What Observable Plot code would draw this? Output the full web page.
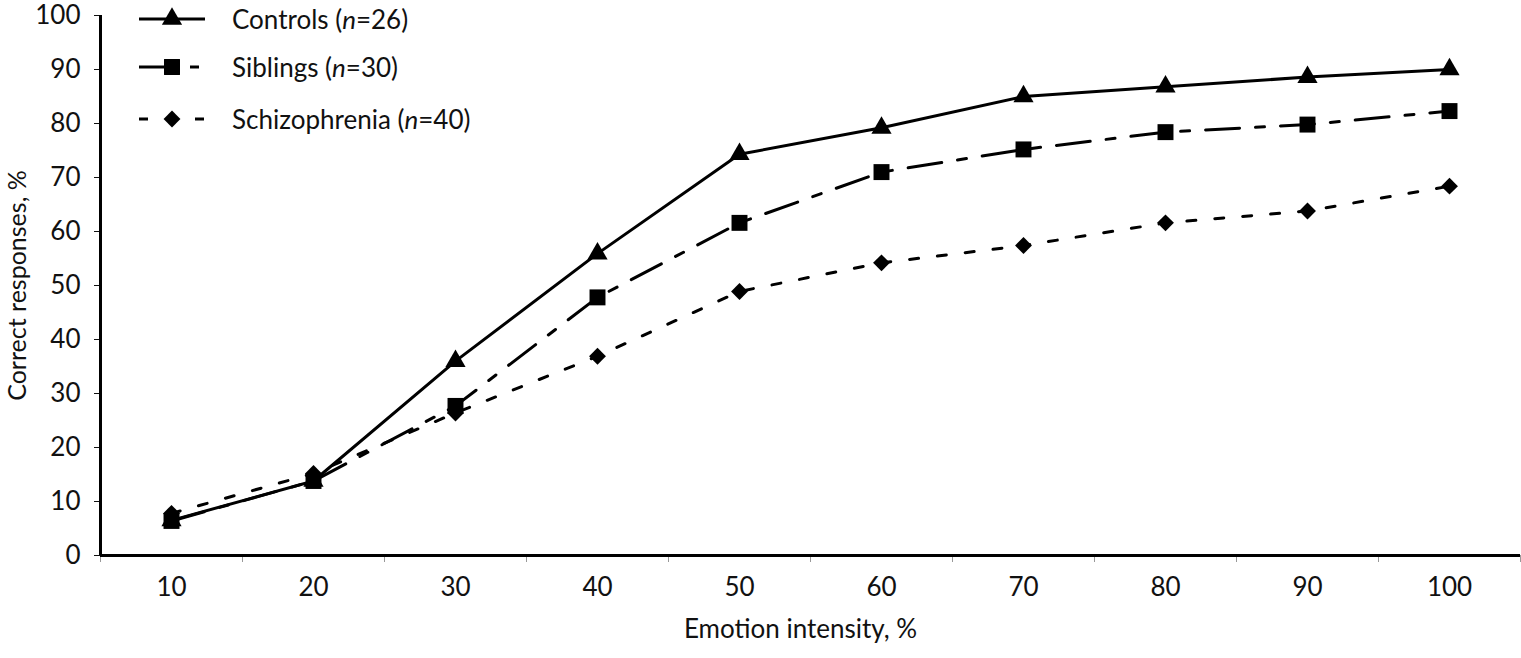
<!DOCTYPE html>
<html>
<head>
<meta charset="utf-8">
<script src="https://cdn.jsdelivr.net/npm/d3@7"></script>
<script src="https://cdn.jsdelivr.net/npm/@observablehq/plot@0.6"></script>
<style>
  body { margin: 0; background: #fff; }
  #grafico { position: relative; width: 1521px; height: 658px; font-family: Lato, "Open Sans", sans-serif; }
  .leyenda { position: absolute; left: 0; top: 0; }
  .fila { position: absolute; left: 138px; height: 30px; display: flex; align-items: center; font-size: 26px; color: #111; white-space: nowrap; }
  .fila svg { display: block; margin-right: 26px; }
</style>
</head>
<body>
<div id="grafico"></div>
<script>
  // Emotion intensity (%) on x, correct responses (%) on y
  const intensidad = [10, 20, 30, 40, 50, 60, 70, 80, 90, 100];
  const controles = [6.5, 13.8, 36.0, 55.9, 74.3, 79.2, 85.0, 86.8, 88.6, 90.0];
  const hermanos = [6.4, 13.8, 27.7, 47.8, 61.6, 71.0, 75.2, 78.4, 79.8, 82.3];
  const esquizofrenia = [7.8, 15.2, 26.4, 36.9, 48.9, 54.2, 57.4, 61.6, 63.8, 68.4];
  const limites = [5, 15, 25, 35, 45, 55, 65, 75, 85, 95, 105];
  const ticksY = [0, 10, 20, 30, 40, 50, 60, 70, 80, 90, 100];

  const series = [
    { nombre: "Controls", n: 26, valores: controles, simbolo: "triangle", r: 7.5, guiones: null },
    { nombre: "Siblings", n: 30, valores: hermanos, simbolo: "square", r: 9, guiones: "34 16 9 16" },
    { nombre: "Schizophrenia", n: 40, valores: esquizofrenia, simbolo: "diamond2", r: 7.6, guiones: "9 19" },
  ];

  const filas = (s) => intensidad.map((x, i) => ({ x, y: s.valores[i] }));

  const marcas = [];
  series.forEach((s) => {
    marcas.push(Plot.line(filas(s), {
      x: "x", y: "y", stroke: "#000", strokeWidth: 3,
      strokeDasharray: s.guiones || undefined,
    }));
  });
  series.forEach((s) => {
    marcas.push(Plot.dot(filas(s), {
      x: "x", y: "y", symbol: () => s.simbolo, r: s.r, fill: "#000", stroke: "none",
    }));
  });

  const fuente = 26;
  const grafico = Plot.plot({
    width: 1521,
    height: 658,
    marginLeft: 100,
    marginRight: 1,
    marginTop: 15,
    marginBottom: 103,
    style: { background: "#fff", fontFamily: "Lato, 'Open Sans', sans-serif", fontSize: fuente + "px", color: "#111", overflow: "visible" },
    x: { type: "linear", domain: [5, 105] },
    y: { domain: [0, 100] },
    symbol: { type: "identity" },
    marks: [
      Plot.axisY({ ticks: ticksY, tickSize: 6, tickPadding: 14, label: null, fontSize: fuente }),
      Plot.axisX({ ticks: intensidad, tickSize: 0, tickPadding: 22, label: null, fontSize: fuente }),
      Plot.axisX({ ticks: limites, tickSize: 7, tickFormat: () => "", stroke: "#999", label: null }),
      Plot.ruleY([0], { stroke: "#000", strokeWidth: 3 }),
      Plot.ruleX([5], { stroke: "#000", strokeWidth: 3 }),
      Plot.text(["Correct responses, %"], {
        frameAnchor: "left", textAnchor: "middle", rotate: -90, dx: -83, fontSize: 25, fill: "#111",
      }),
      Plot.text(["Emotion intensity, %"], {
        frameAnchor: "bottom", dy: 82, dx: -10, fontSize: fuente, fill: "#111",
      }),
      ...marcas,
    ],
  });

  const host = document.getElementById("grafico");
  host.appendChild(grafico);

  // leyenda dentro del área del gráfico, arriba a la izquierda
  const leyenda = document.createElement("div");
  leyenda.className = "leyenda";
  const centros = [19, 67, 119];
  series.forEach((s, i) => {
    const fila = document.createElement("div");
    fila.className = "fila";
    fila.style.top = (centros[i] - 15) + "px";
    const svg = d3.create("svg").attr("width", 68).attr("height", 30);
    svg.append("line")
      .attr("x1", 1).attr("x2", 67).attr("y1", 15).attr("y2", 15)
      .attr("stroke", "#000").attr("stroke-width", 3)
      .attr("stroke-dasharray", s.guiones ? (s.guiones === "9 19" ? "9 19" : "25 8 0 18 9 20") : null);
    const tipo = { triangle: d3.symbolTriangle, square: d3.symbolSquare, diamond2: d3.symbolDiamond2 }[s.simbolo];
    svg.append("path")
      .attr("transform", "translate(34,15)")
      .attr("d", d3.symbol(tipo, Math.PI * s.r * s.r)())
      .attr("fill", "#000");
    fila.appendChild(svg.node());
    const txt = document.createElement("span");
    txt.innerHTML = `${s.nombre} (<i>n</i>=${s.n})`;
    fila.appendChild(txt);
    leyenda.appendChild(fila);
  });
  host.appendChild(leyenda);
</script>
</body>
</html>
